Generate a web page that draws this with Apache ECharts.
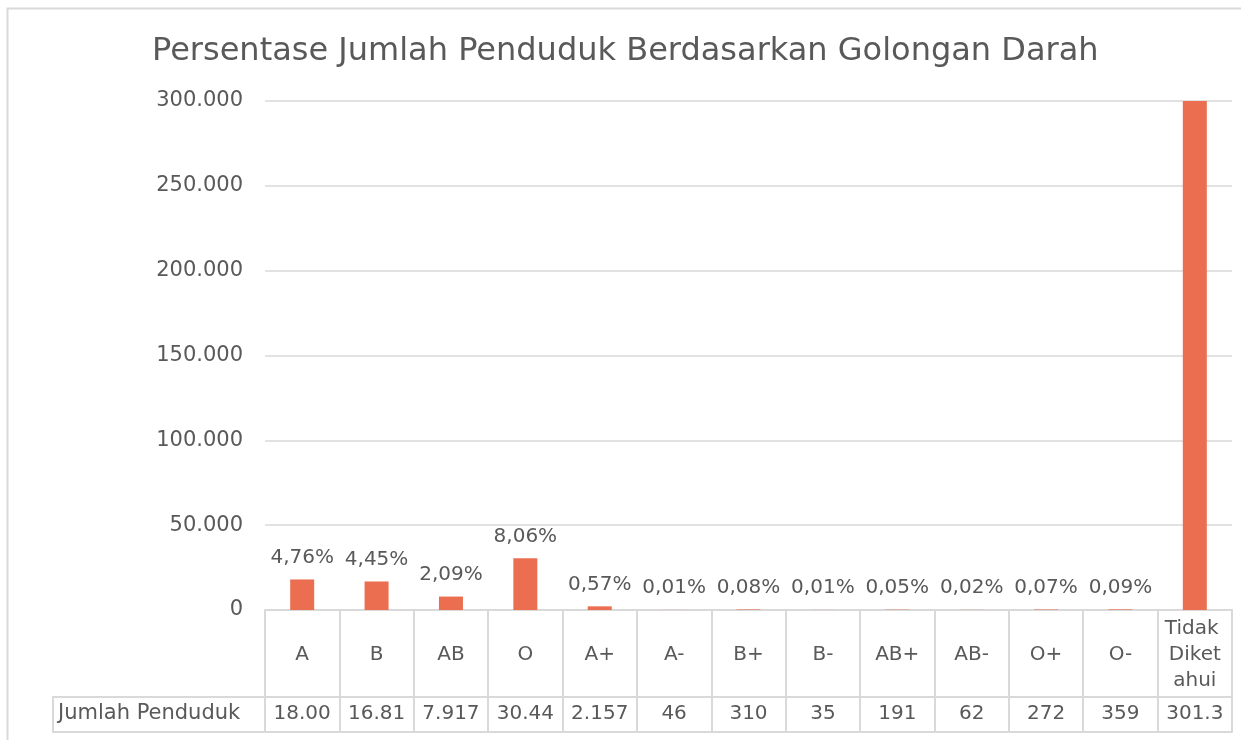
<!DOCTYPE html>
<html>
<head>
<meta charset="utf-8">
<script src="https://cdn.jsdelivr.net/npm/echarts@6/dist/echarts.min.js"></script>
<style>
  html, body { margin: 0; padding: 0; background: #fff; }
  #chart { width: 1241px; height: 740px; }
</style>
</head>
<body>
<div id="chart"></div>
<script>
// golongan darah
var categories = ['A', 'B', 'AB', 'O', 'A+', 'A-', 'B+', 'B-', 'AB+', 'AB-', 'O+', 'O-', 'Tidak Diketahui'];
// jumlah penduduk (perkiraan dari gambar)
var jumlah = [18004, 16815, 7917, 30448, 2157, 46, 310, 35, 191, 62, 272, 359, 301340];
var yTicks = [0, 50000, 100000, 150000, 200000, 250000, 300000];

var yMax = 300000;
var total = jumlah.reduce(function (a, b) { return a + b; }, 0);

function titik(v) {
  return String(v).replace(/\B(?=(\d{3})+(?!\d))/g, '.');
}
// isi tabel dipotong seperti di sel Excel
var tabelLabel = jumlah.map(function (v) { return titik(v).slice(0, 5); });

var txt = '#595959';
var garis = '#D9D9D9';
var fontName = 'DejaVu Sans';

var myChart = echarts.init(document.getElementById('chart'));
myChart.setOption({
  animation: false,
  textStyle: { fontFamily: fontName },
  title: {
    text: 'Persentase Jumlah Penduduk Berdasarkan Golongan Darah',
    left: 147,
    top: 31,
    textStyle: { color: txt, fontSize: 32, fontWeight: 'normal', fontFamily: fontName }
  },
  grid: { left: 265, right: 9, top: 101, bottom: 130 },
  xAxis: [
    {
      type: 'category',
      data: categories,
      axisLine: { lineStyle: { color: garis, width: 2 } },
      axisTick: { show: true, interval: 0, length: 122, lineStyle: { color: garis, width: 2 } },
      axisLabel: {
        interval: 0, color: txt, fontSize: 20, margin: 45,
        verticalAlign: 'middle', lineHeight: 26, width: 62, overflow: 'breakAll', align: 'center'
      }
    },
    {
      type: 'category',
      data: tabelLabel,
      position: 'bottom',
      offset: 87,
      axisLine: { show: true, lineStyle: { color: garis, width: 2 } },
      axisTick: { show: false },
      axisLabel: { interval: 0, color: txt, fontSize: 20, margin: 17, verticalAlign: 'middle' }
    },
    {
      type: 'category',
      data: categories,
      position: 'bottom',
      offset: 122,
      axisLine: { show: true, lineStyle: { color: garis, width: 2 } },
      axisTick: { show: false },
      axisLabel: { show: false }
    }
  ],
  yAxis: {
    type: 'value',
    min: yTicks[0],
    max: yMax,
    interval: 50000,
    axisLine: { show: false },
    axisTick: { show: false },
    axisLabel: { color: txt, fontSize: 21, margin: 22, formatter: function (v) { return titik(v); } },
    splitLine: { lineStyle: { color: garis, width: 1.5 } }
  },
  series: [{
    type: 'bar',
    xAxisIndex: 0,
    barWidth: 24,
    itemStyle: { color: '#EB6E50' },
    data: jumlah.map(function (v) {
      return { value: v, label: { show: v <= yMax } };
    }),
    label: {
      show: true,
      position: 'top',
      distance: 12,
      color: txt,
      fontSize: 20,
      formatter: function (p) {
        return (p.value / total * 100).toFixed(2).replace('.', ',') + '%';
      }
    }
  }],
  graphic: [
    {
      type: 'rect',
      shape: { x: 7.5, y: 8.5, width: 1400, height: 900 },
      style: { fill: 'none', stroke: garis, lineWidth: 2 }
    },
    {
      type: 'rect',
      shape: { x: 53, y: 697, width: 212, height: 35 },
      style: { fill: 'none', stroke: garis, lineWidth: 2 }
    },
    {
      type: 'text',
      x: 58,
      y: 714,
      style: { text: 'Jumlah Penduduk', fill: txt, fontSize: 21, fontFamily: fontName, verticalAlign: 'middle' }
    }
  ]
});
</script>
</body>
</html>
